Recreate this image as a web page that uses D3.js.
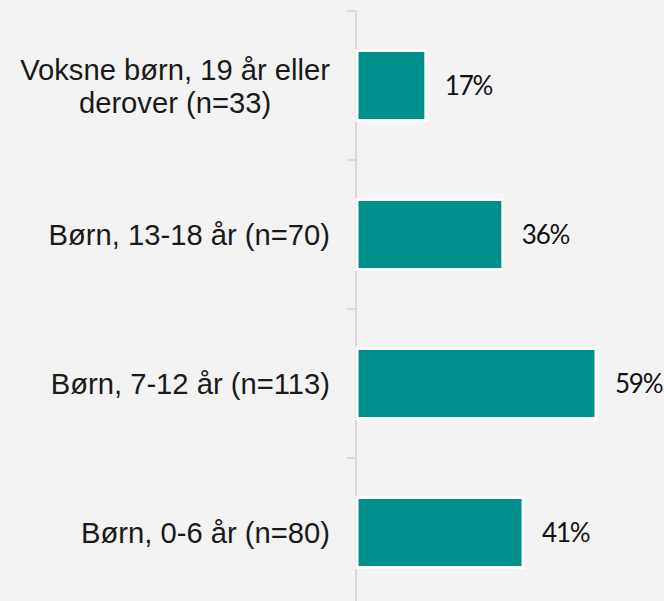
<!DOCTYPE html>
<html>
<head>
<meta charset="utf-8">
<script src="https://cdn.jsdelivr.net/npm/d3@7"></script>
<style>
  html, body { margin: 0; padding: 0; background: #f3f3f3; }
  svg { display: block; }
</style>
</head>
<body>
<svg id="chart" width="664" height="601"></svg>
<script>
// Categories (top to bottom), each label split into lines
const categories = [
  ["Voksne børn, 19 år eller", "derover (n=33)"],
  ["Børn, 13-18 år (n=70)"],
  ["Børn, 7-12 år (n=113)"],
  ["Børn, 0-6 år (n=80)"]
];
const values = [17, 36, 59, 41];
const valueLabels = ["17%", "36%", "59%", "41%"];

const width = 664, height = 601;
const axisX = 356;
const svg = d3.select("#chart");

svg.append("rect").attr("width", width).attr("height", height).attr("fill", "#f3f3f3");

const y = d3.scaleBand()
  .domain(d3.range(categories.length))
  .range([11, 607])
  .paddingInner(0.53)
  .paddingOuter(0.265);

const x = d3.scaleLinear().domain([0, 100]).range([axisX + 1, axisX + 1 + 405]);

// Category axis: line plus ticks at band boundaries
const bandStep = y.step();
const boundaries = d3.range(categories.length).map(i => y(i) - y.paddingOuter() * bandStep);
const axisG = svg.append("g");
axisG.append("line")
  .attr("x1", axisX).attr("x2", axisX)
  .attr("y1", 11).attr("y2", height)
  .attr("stroke", "#d9d9d9").attr("stroke-width", 2);
axisG.selectAll("line.tick")
  .data(boundaries)
  .join("line")
  .attr("class", "tick")
  .attr("x1", axisX - 9).attr("x2", axisX)
  .attr("y1", d => d).attr("y2", d => d)
  .attr("stroke", "#d9d9d9").attr("stroke-width", 2);

// Bars
svg.append("g").selectAll("rect")
  .data(values)
  .join("rect")
  .attr("x", x(0))
  .attr("y", (d, i) => y(i))
  .attr("width", d => x(d) - x(0))
  .attr("height", y.bandwidth())
  .attr("fill", "#008f8a")
  .attr("stroke", "#ffffff")
  .attr("stroke-width", 3);

// Value labels
svg.append("g").selectAll("text")
  .data(values)
  .join("text")
  .attr("x", d => x(d) + 19)
  .attr("y", (d, i) => y(i) + y.bandwidth() / 2)
  .attr("dy", "0.36em")
  .attr("font-family", "Lato, 'Open Sans', sans-serif")
  .attr("font-weight", 400)
  .attr("font-size", 26)
  .attr("letter-spacing", "-1.2px")
  .attr("fill", "#111111")
  .text((d, i) => valueLabels[i]);

// Category labels: block right-aligned to the axis, lines centred within the block
const labelRight = 330;
const lineH = 33;
const labelG = svg.append("g")
  .attr("font-family", "'Liberation Sans', Arial, sans-serif")
  .attr("font-size", 29.2)
  .attr("fill", "#1a1a1a");
categories.forEach((lines, i) => {
  const cy = y(i) + y.bandwidth() / 2;
  const t = labelG.append("text").attr("text-anchor", "middle");
  lines.forEach((ln, j) => {
    t.append("tspan").attr("y", cy + (j - (lines.length - 1) / 2) * lineH).attr("dy", "0.36em").text(ln);
  });
  const w = d3.max(t.selectAll("tspan").nodes(), n => n.getComputedTextLength());
  t.selectAll("tspan").attr("x", labelRight - w / 2);
});
</script>
</body>
</html>
